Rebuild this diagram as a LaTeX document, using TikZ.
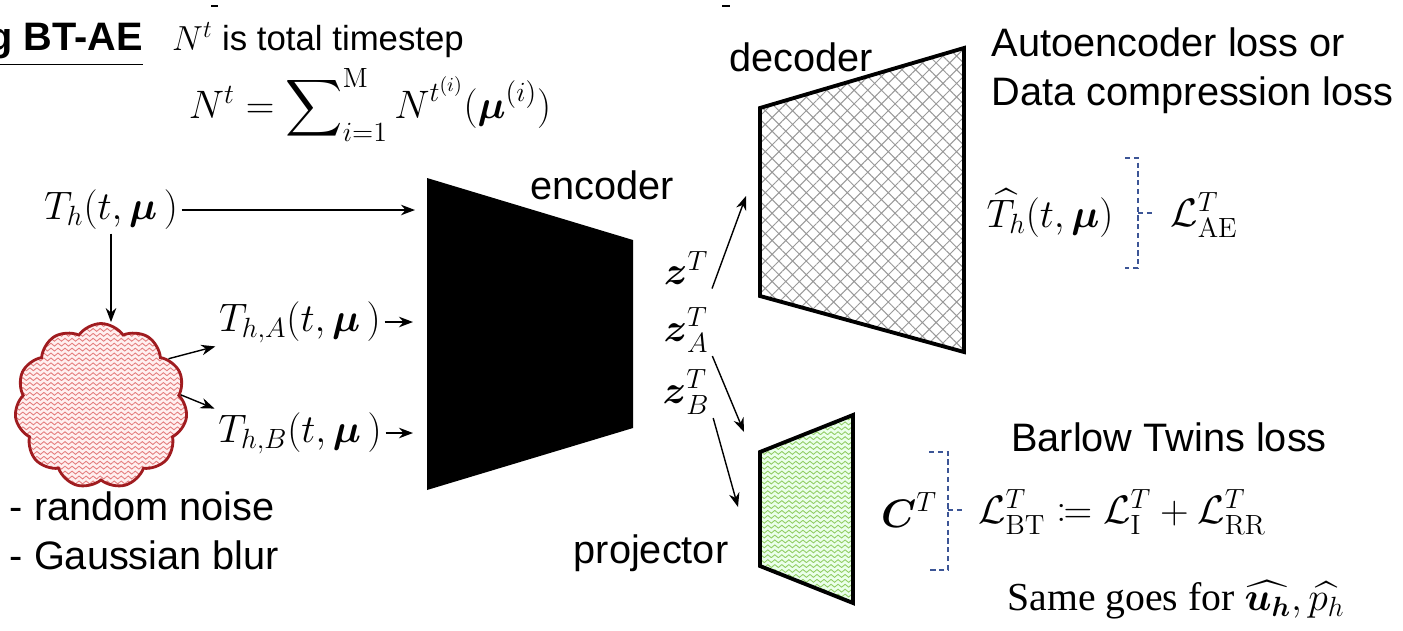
\RequirePackage{fix-cm}
\documentclass[tikz,border=0pt]{standalone}
\usepackage{amsmath,amssymb,mathtools}
\usepackage[no-math]{fontspec}
\setmainfont{Liberation Sans}
\newfontfamily\timesfont{Liberation Serif}
\usetikzlibrary{arrows.meta,positioning,calc,shapes.symbols,patterns.meta}
\newcommand{\bmu}{\boldsymbol{\mu}}
\newcommand{\Lc}{\mathcal{L}}
\definecolor{cloudred}{RGB}{160,28,32}
\definecolor{cloudfill}{RGB}{228,125,125}
\definecolor{projgreen}{RGB}{145,205,100}
\definecolor{bracketblue}{RGB}{60,85,150}

\tikzdeclarepattern{
  name=waves,
  type=uncolored,
  bounding box={(-.1pt,-1pt) and (4.1pt,1pt)},
  tile size={(4pt,2.8pt)},
  code={
    \draw[line width=.5pt] (0,0) .. controls (1pt,1.1pt) and (1pt,1.1pt) .. (2pt,0)
      .. controls (3pt,-1.1pt) and (3pt,-1.1pt) .. (4pt,0);
  }
}

\begin{document}
\begin{tikzpicture}[
  x=0.02cm,y=-0.02cm,
  every node/.style={font=\fontsize{22.6}{28}\selectfont,inner sep=2pt},
  arr/.style={-{Stealth[length=8pt,width=6pt]},line width=0.8pt},
  brk/.style={draw=bracketblue,dash pattern=on 3pt off 2pt,line width=1pt},
  netedge/.style={line width=2.2pt,line join=miter}
]
  \useasboundingbox (0,0) rectangle (1403,630);

  % header
  \node[anchor=east] (title) at (147,45) {\textbf{\underline{g BT-AE}}};
  \draw[line width=1.2pt] (211,6) -- (218,6);
  \draw[line width=1.2pt] (722,6) -- (730,6);
  \node[font=\fontsize{19.8}{24}\selectfont] (tstep) at (318,40) {$N^t$ is total timestep};
  \node (tsum) at (370,105) {$N^t=\displaystyle\sum\nolimits_{i=1}^{\mathrm{M}} N^{t^{(i)}}(\bmu^{(i)})$};

  % inputs and augmentation
  \node (Th)  at (111,210) {$T_h(t,\bmu\,)$};
  \node[cloud,cloud puffs=11,cloud puff arc=110,aspect=1.05,draw=cloudred,line width=1.6pt,
        preaction={fill=red!6},pattern=waves,pattern color=cloudfill,
        minimum width=3.45cm,minimum height=3.3cm,inner sep=0pt] (noise) at (101,406) {};
  \node (ThA) at (300,322) {$T_{h,A}(t,\bmu\,)$};
  \node (ThB) at (300,433) {$T_{h,B}(t,\bmu\,)$};
  \node[align=left,anchor=north west] (aug) at (6,488) {- random noise\\- Gaussian blur};

  % encoder
  \coordinate (enc-tl) at (427,178);
  \coordinate (enc-tr) at (633,240);
  \coordinate (enc-br) at (633,428);
  \coordinate (enc-bl) at (427,490);
  \fill (enc-tl) -- (enc-tr) -- (enc-br) -- (enc-bl) -- cycle;
  \node (enclbl) at (602,185) {encoder};
  \coordinate (enc-in1) at (415,210);
  \coordinate (enc-in2) at (413,322);
  \coordinate (enc-in3) at (413,433);

  \draw[arr] (Th) -- (enc-in1);
  \draw[arr] (Th.south) -- (Th.south |- noise.north);
  \draw[arr] (noise.35) -- (ThA.south west);
  \draw[arr] (noise.8) -- (ThB.north west);
  \draw[arr] (ThA) -- (enc-in2);
  \draw[arr] (ThB) -- (enc-in3);

  % latent codes
  \node (zT) at (686,268) {$\boldsymbol{z}^T$};
  \node (zA) at (686,330) {$\boldsymbol{z}^T_A$};
  \node (zB) at (686,392) {$\boldsymbol{z}^T_B$};

  % decoder
  \coordinate (dec-tl) at (760,108);
  \coordinate (dec-tr) at (964,48);
  \coordinate (dec-br) at (964,352);
  \coordinate (dec-bl) at (760,296);
  \draw[netedge,preaction={fill=white},pattern={Hatch[angle=45,distance=5.5pt,line width=.55pt]},pattern color=gray!80]
    (dec-tl) -- (dec-tr) -- (dec-br) -- (dec-bl) -- cycle;
  \node (declbl) at (801,57) {decoder};
  \coordinate (dec-in) at (746,196);

  % projector
  \coordinate (prj-tl) at (760,452);
  \coordinate (prj-tr) at (853,415);
  \coordinate (prj-br) at (853,603);
  \coordinate (prj-bl) at (760,566);
  \draw[netedge,preaction={fill=green!8},pattern=waves,pattern color=projgreen]
    (prj-tl) -- (prj-tr) -- (prj-br) -- (prj-bl) -- cycle;
  \node (prjlbl) at (651,553) {projector};
  \coordinate (prj-in1) at (744,432);
  \coordinate (prj-in2) at (738,507);

  \draw[arr] (zT.south east) -- (dec-in);
  \draw[arr] (zA.south east) -- (prj-in1);
  \draw[arr] (zB.south east) -- (prj-in2);

  % autoencoder loss
  \node[align=left,anchor=north west] (aeloss) at (988,24) {Autoencoder loss or\\Data compression loss};
  \node (Thhat) at (1050,213) {$\widehat{T_h}(t,\bmu)$};
  \draw[brk] (1125,158) -- (1138,158) -- (1138,268) -- (1125,268);
  \draw[brk] (1138,213) -- (1152,213);
  \node (LAE) at (1204,215) {$\Lc^T_{\mathrm{AE}}$};

  % barlow twins loss
  \node (btloss) at (1169,437) {Barlow Twins loss};
  \node (CT) at (909,510) {$\boldsymbol{C}^T$};
  \draw[brk] (929,452) -- (948,452) -- (948,570) -- (929,570);
  \draw[brk] (948,510) -- (963,510);
  \node (LBT) at (1122,512) {$\Lc^T_{\mathrm{BT}}\coloneqq\Lc^T_{\mathrm{I}}+\Lc^T_{\mathrm{RR}}$};
  \node (same) at (1176,600) {\timesfont Same goes for $\widehat{\boldsymbol{u_h}},\widehat{p_h}$};
\end{tikzpicture}
\end{document}
